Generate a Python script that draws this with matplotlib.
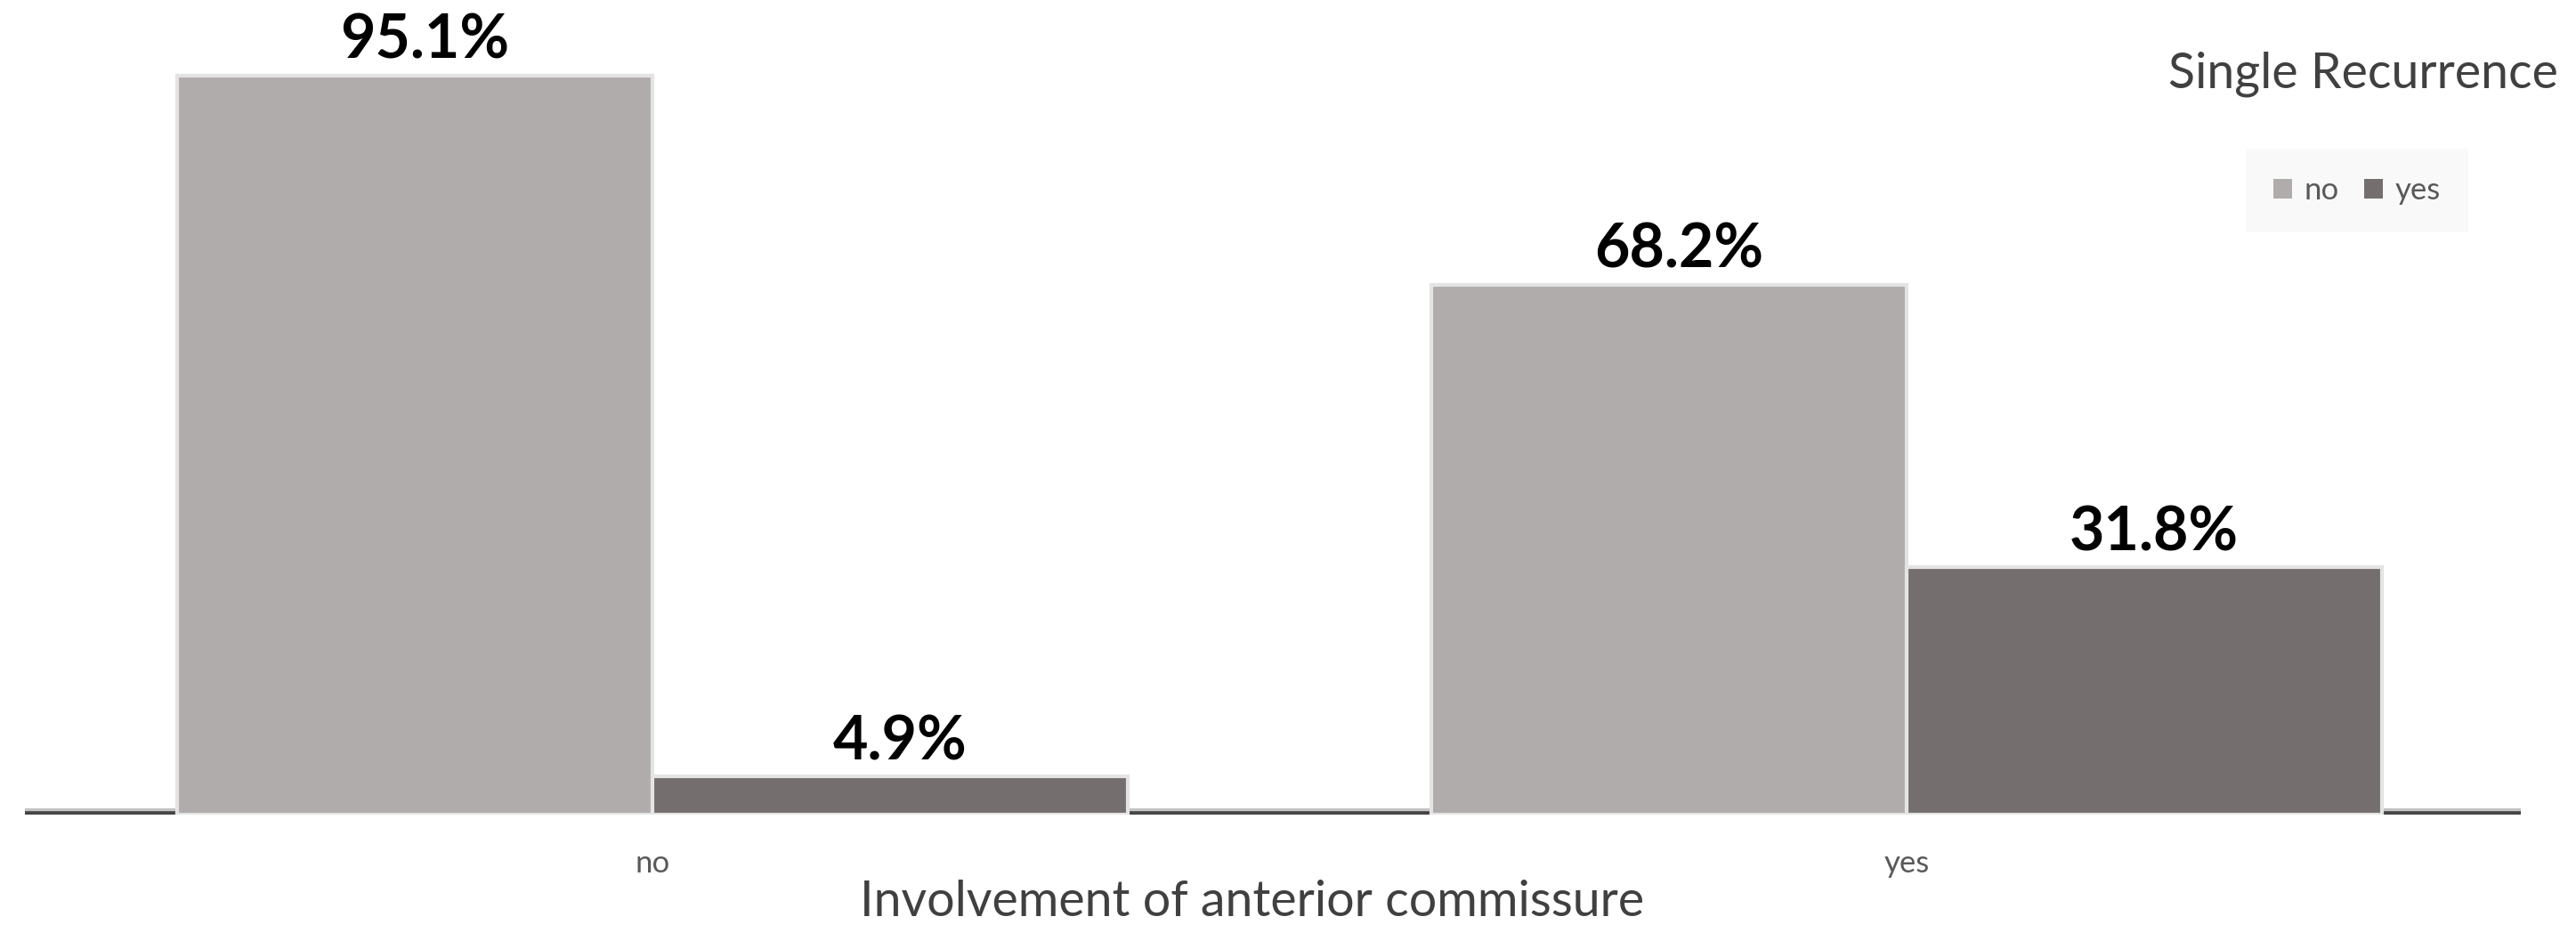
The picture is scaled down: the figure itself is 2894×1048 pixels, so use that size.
import numpy as np
import matplotlib.pyplot as plt

# data
categories = ['no', 'yes']
series_names = ['no', 'yes']
vals_no = [95.1, 68.2]
vals_yes = [4.9, 31.8]
bar_labels_no = ['95.1%', '68.2%']
bar_labels_yes = ['4.9%', '31.8%']

col_no = '#b0acab'
col_yes = '#746f6e'

plt.rcParams['font.family'] = ['Lato', 'DejaVu Sans']

fig = plt.figure(figsize=(28.94, 10.48), dpi=100)
ax = fig.add_axes([0.0097, 0.127, 0.969, 0.873])

x = np.arange(len(categories))
w = 0.379

b1 = ax.bar(x - w/2, vals_no, w, color=col_no, edgecolor='#e4e4e4', linewidth=3, zorder=3, label=series_names[0])
b2 = ax.bar(x + w/2, vals_yes, w, color=col_yes, edgecolor='#e4e4e4', linewidth=3, zorder=3, label=series_names[1])

for bars, labs in [(b1, bar_labels_no), (b2, bar_labels_yes)]:
  for r, t in zip(bars, labs):
    ax.text(r.get_x() + r.get_width()/2 + 0.008, r.get_height() + 0.8, t, ha='center', va='bottom',
            fontsize=49, fontweight='bold', color='black', zorder=4)

# baseline
ax.axhline(0, color='#c4c4c4', linewidth=11, zorder=1)
ax.axhline(0, color='#454545', linewidth=5.5, zorder=2)

ax.set_xlim(-0.5, 1.49)
ax.set_ylim(0, 104.8)
for s in ax.spines.values():
  s.set_visible(False)
ax.set_yticks([])
ax.set_xticks(x)
ax.set_xticklabels(categories, fontsize=25, color='#595959')
ax.tick_params(axis='x', length=0, pad=28)

fig.text(0.486, 0.033, 'Involvement of anterior commissure', ha='center', va='center',
         fontsize=40, color='#404040')
fig.text(0.993, 0.921, 'Single Recurrence', ha='right', va='center', fontsize=40, color='#404040')

leg = fig.legend(handles=[b1, b2], labels=series_names, ncol=2, loc='center',
                 bbox_to_anchor=(0.915, 0.796), fontsize=25, frameon=True,
                 facecolor='#f8f8f8', edgecolor='none', fancybox=False,
                 handlelength=0.6, handleheight=0.6, handletextpad=0.4, columnspacing=0.8,
                 borderpad=0.9, labelcolor='#595959')
for h in leg.legend_handles:
  h.set_linewidth(0)

fig.savefig('out.png', dpi=100)
